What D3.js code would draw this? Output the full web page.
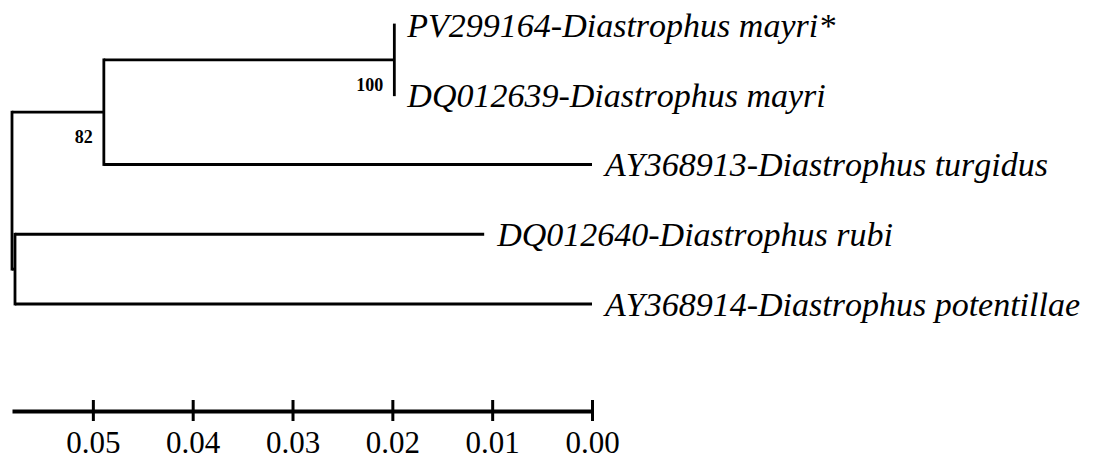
<!DOCTYPE html>
<html>
<head>
<meta charset="utf-8">
<script src="https://cdn.jsdelivr.net/npm/d3@7"></script>
<style>
  html, body { margin: 0; padding: 0; background: #fff; }
  svg { display: block; }
  svg text { font-family: "Liberation Serif", "Tinos", "Times New Roman", Times, "DejaVu Serif", serif; font-kerning: none; }
</style>
</head>
<body>
<svg id="chart" width="1100" height="459"></svg>
<script>
// ---- data ----
const nodeIds   = ["root", "n82", "n100", "nX", "t1", "t2", "t3", "t4", "t5"];
const parentIds = [null, "root", "n82", "root", "n100", "n100", "n82", "nX", "nX"];
// node depth read on the (reversed) distance axis
const heights   = [0.0581, 0.0489, 0.0198, 0.0578, 0.0198, 0.0198, 0.0, 0.0108, 0.0];
const tipLabels = {
  t1: "PV299164-Diastrophus mayri*",
  t2: "DQ012639-Diastrophus mayri",
  t3: "AY368913-Diastrophus turgidus",
  t4: "DQ012640-Diastrophus rubi",
  t5: "AY368914-Diastrophus potentillae"
};
const bootstrapNodes  = ["n100", "n82"];
const bootstrapValues = ["100", "82"];
const axisTicks = [0.05, 0.04, 0.03, 0.02, 0.01, 0.00];

// ---- layout ----
const FONT = '"Liberation Serif", "Tinos", "Times New Roman", Times, "DejaVu Serif", serif';
const svg = d3.select("#chart");
const x = d3.scaleLinear().domain([heights[0], 0]).range([12, 592]);

const table = nodeIds.map((id, i) => ({ id, parentId: parentIds[i], h: heights[i] }));
const root = d3.stratify().id(d => d.id).parentId(d => d.parentId)(table);
const leaves = root.leaves();
const y = d3.scalePoint().domain(leaves.map(d => d.id)).range([25, 304]);

root.eachAfter(n => {
  n.px = x(n.data.h);
  if (!n.children) n.py = y(n.id);
  else n.py = (n.children[0].py + n.children[n.children.length - 1].py) / 2;
});

const g = svg.append("g");
const lineStyle = sel => sel.attr("stroke", "#000").attr("stroke-width", 2.8).attr("fill", "none");

// horizontal branches
root.descendants().filter(n => n.parent).forEach(n => {
  if (Math.abs(n.px - n.parent.px) < 0.01) return;
  g.append("line")
    .attr("x1", n.parent.px).attr("x2", n.px)
    .attr("y1", n.py).attr("y2", n.py)
    .call(lineStyle);
});
// vertical connectors
root.descendants().filter(n => n.children).forEach(n => {
  const c = n.children;
  g.append("line")
    .attr("x1", n.px).attr("x2", n.px)
    .attr("y1", c[0].py - 1.4).attr("y2", c[c.length - 1].py + 1.4)
    .call(lineStyle);
});

// tip labels
leaves.forEach(n => {
  g.append("text")
    .attr("x", n.px + 13)
    .attr("y", n.py)
    .attr("dy", "0.35em")
    .style("font-family", FONT)
    .style("font-style", "italic")
    .style("font-size", "34px")
    .attr("fill", "#000")
    .text(tipLabels[n.id]);
});

// bootstrap values
bootstrapNodes.forEach((id, i) => {
  const n = root.find(d => d.id === id);
  g.append("text")
    .attr("x", n.px - 11)
    .attr("y", n.py + 31)
    .attr("text-anchor", "end")
    .style("font-family", FONT)
    .style("font-weight", "bold")
    .style("font-size", "18px")
    .attr("fill", "#000")
    .text(bootstrapValues[i]);
});

// scale axis
const axis = d3.axisBottom(x)
  .tickValues(axisTicks)
  .tickFormat(d3.format(".2f"))
  .tickSizeOuter(0)
  .tickSizeInner(9)
  .tickPadding(0);

const ax = svg.append("g").attr("transform", "translate(0,411)").call(axis)
  .attr("font-family", null).attr("font-size", null);
ax.select(".domain").attr("stroke", "#000").attr("stroke-width", 4);
ax.selectAll(".tick line").attr("stroke", "#000").attr("stroke-width", 3)
  .attr("y1", -11).attr("y2", 10);
ax.selectAll(".tick text")
  .attr("y", 42).attr("dy", 0)
  .attr("fill", "#000")
  .style("font-family", FONT)
  .style("font-size", "31px");
</script>
</body>
</html>
